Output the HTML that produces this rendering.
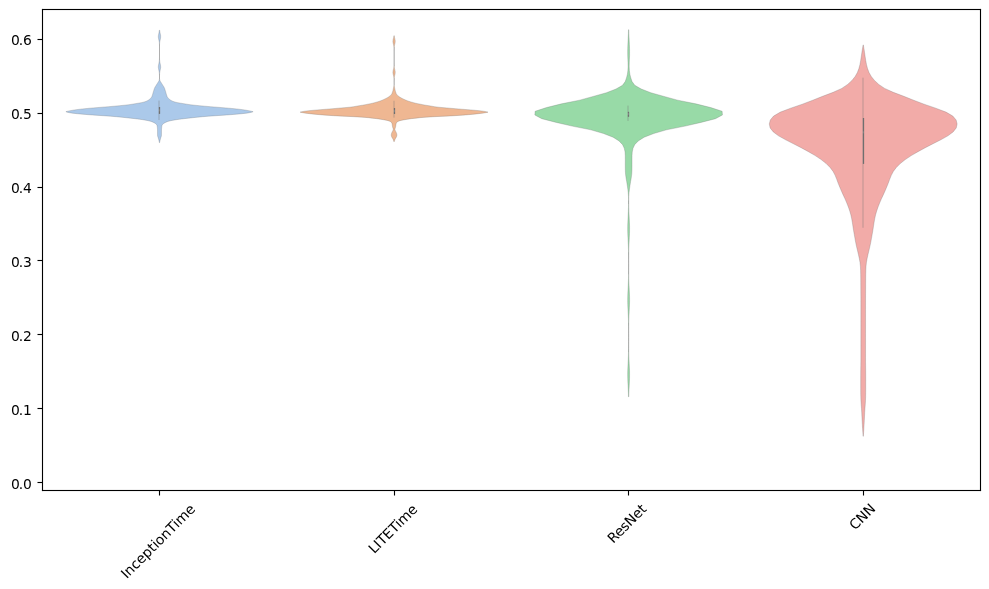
<!DOCTYPE html>
<html lang="en"><head><meta charset="utf-8"><title>Violin plot</title>
<style>
html,body{margin:0;padding:0;background:#fff;}
body{width:989px;height:589px;overflow:hidden;}
svg{display:block;}
text{font-family:"DejaVu Sans","Liberation Sans",sans-serif;font-size:13.889px;fill:#000;}
</style></head><body>
<svg width="989" height="589" viewBox="0 0 989 589">
<rect x="0" y="0" width="989" height="589" fill="#ffffff"/>

<g id="violins">
<path d="M159.34,30.20 L159.29,30.70 L159.22,31.20 L159.14,31.70 L159.05,32.20 L158.95,32.70 L158.85,33.20 L158.74,33.70 L158.63,34.20 L158.54,34.70 L158.46,35.20 L158.39,35.70 L158.36,36.20 L158.35,36.70 L158.37,37.20 L158.41,37.70 L158.49,38.20 L158.57,38.70 L158.67,39.20 L158.78,39.70 L158.89,40.20 L158.99,40.70 L159.09,41.20 L159.18,41.70 L159.25,42.20 L159.31,42.70 L159.36,43.20 L159.40,43.70 L159.43,44.20 L159.45,44.70 L159.47,45.20 L159.48,45.70 L159.49,46.20 L159.49,46.70 L159.49,47.20 L159.50,47.70 L159.50,48.20 L159.50,48.70 L159.50,49.20 L159.50,49.70 L159.50,50.20 L159.50,50.70 L159.50,51.20 L159.50,51.70 L159.50,52.20 L159.50,52.70 L159.50,53.20 L159.50,53.70 L159.50,54.20 L159.50,54.70 L159.50,55.20 L159.50,55.70 L159.50,56.20 L159.49,56.70 L159.49,57.20 L159.48,57.70 L159.47,58.20 L159.46,58.70 L159.44,59.20 L159.41,59.70 L159.37,60.20 L159.32,60.70 L159.26,61.20 L159.19,61.70 L159.11,62.20 L159.01,62.70 L158.91,63.20 L158.80,63.70 L158.69,64.20 L158.59,64.70 L158.50,65.20 L158.43,65.70 L158.38,66.20 L158.36,66.70 L158.35,67.20 L158.39,67.70 L158.44,68.20 L158.52,68.70 L158.61,69.20 L158.71,69.70 L158.82,70.20 L158.93,70.70 L159.03,71.20 L159.13,71.70 L159.21,72.20 L159.28,72.70 L159.33,73.20 L159.38,73.70 L159.41,74.20 L159.44,74.70 L159.46,75.20 L159.47,75.70 L159.48,76.20 L159.49,76.70 L159.49,77.20 L159.50,77.70 L159.50,78.20 L159.47,78.70 L159.39,79.20 L159.28,79.70 L159.15,80.20 L159.00,80.70 L158.76,81.20 L158.45,81.70 L158.12,82.20 L157.79,82.70 L157.49,83.20 L157.17,83.70 L156.85,84.20 L156.53,84.70 L156.22,85.20 L155.92,85.70 L155.60,86.20 L155.29,86.70 L155.00,87.20 L154.74,87.70 L154.52,88.20 L154.33,88.70 L154.16,89.20 L154.00,89.70 L153.84,90.20 L153.69,90.70 L153.53,91.20 L153.39,91.70 L153.24,92.20 L153.09,92.70 L152.94,93.20 L152.79,93.70 L152.66,94.20 L152.52,94.70 L152.37,95.20 L152.20,95.70 L152.01,96.20 L151.79,96.70 L151.50,97.20 L151.14,97.70 L150.71,98.20 L150.23,98.70 L149.69,99.20 L149.06,99.70 L148.31,100.20 L147.42,100.70 L146.39,101.20 L145.07,101.70 L143.39,102.20 L141.20,102.70 L138.18,103.20 L135.12,103.70 L132.22,104.20 L128.95,104.70 L124.70,105.20 L119.57,105.70 L114.23,106.20 L108.50,106.70 L102.25,107.20 L96.00,107.70 L90.13,108.20 L84.78,108.70 L80.19,109.20 L76.19,109.70 L72.97,110.20 L70.14,110.70 L67.73,111.20 L65.90,111.70 L67.16,112.20 L69.51,112.70 L72.51,113.20 L77.20,113.70 L82.67,114.20 L88.78,114.70 L95.50,115.20 L103.21,115.70 L110.54,116.20 L116.33,116.70 L121.51,117.20 L126.30,117.70 L130.80,118.20 L135.20,118.70 L139.36,119.20 L142.83,119.70 L145.74,120.20 L148.28,120.70 L150.30,121.20 L151.80,121.70 L153.02,122.20 L154.03,122.70 L154.93,123.20 L155.67,123.70 L156.18,124.20 L156.60,124.70 L156.92,125.20 L157.10,125.70 L157.18,126.20 L157.25,126.70 L157.31,127.20 L157.36,127.70 L157.41,128.20 L157.44,128.70 L157.47,129.20 L157.49,129.70 L157.50,130.20 L157.51,130.70 L157.51,131.20 L157.52,131.70 L157.52,132.20 L157.52,132.70 L157.52,133.20 L157.53,133.70 L157.53,134.20 L157.54,134.70 L157.55,135.20 L157.57,135.70 L157.68,136.20 L157.84,136.70 L158.02,137.20 L158.19,137.70 L158.33,138.20 L158.47,138.70 L158.61,139.20 L158.75,139.70 L158.88,140.20 L159.00,140.70 L159.10,141.20 L159.21,141.70 L159.30,142.20 L159.39,142.70 L159.40,142.75 L159.60,142.75 L159.61,142.70 L159.70,142.20 L159.79,141.70 L159.90,141.20 L160.00,140.70 L160.12,140.20 L160.25,139.70 L160.39,139.20 L160.53,138.70 L160.67,138.20 L160.81,137.70 L160.98,137.20 L161.16,136.70 L161.32,136.20 L161.43,135.70 L161.45,135.20 L161.46,134.70 L161.47,134.20 L161.47,133.70 L161.48,133.20 L161.48,132.70 L161.48,132.20 L161.48,131.70 L161.49,131.20 L161.49,130.70 L161.50,130.20 L161.51,129.70 L161.53,129.20 L161.56,128.70 L161.59,128.20 L161.64,127.70 L161.69,127.20 L161.75,126.70 L161.82,126.20 L161.90,125.70 L162.08,125.20 L162.40,124.70 L162.82,124.20 L163.33,123.70 L164.07,123.20 L164.97,122.70 L165.98,122.20 L167.20,121.70 L168.70,121.20 L170.72,120.70 L173.26,120.20 L176.17,119.70 L179.64,119.20 L183.80,118.70 L188.20,118.20 L192.70,117.70 L197.49,117.20 L202.67,116.70 L208.46,116.20 L215.79,115.70 L223.50,115.20 L230.22,114.70 L236.33,114.20 L241.80,113.70 L246.49,113.20 L249.49,112.70 L251.84,112.20 L253.10,111.70 L251.27,111.20 L248.86,110.70 L246.03,110.20 L242.81,109.70 L238.81,109.20 L234.22,108.70 L228.87,108.20 L223.00,107.70 L216.75,107.20 L210.50,106.70 L204.77,106.20 L199.43,105.70 L194.30,105.20 L190.05,104.70 L186.78,104.20 L183.88,103.70 L180.82,103.20 L177.80,102.70 L175.61,102.20 L173.93,101.70 L172.61,101.20 L171.58,100.70 L170.69,100.20 L169.94,99.70 L169.31,99.20 L168.77,98.70 L168.29,98.20 L167.86,97.70 L167.50,97.20 L167.21,96.70 L166.99,96.20 L166.80,95.70 L166.63,95.20 L166.48,94.70 L166.34,94.20 L166.21,93.70 L166.06,93.20 L165.91,92.70 L165.76,92.20 L165.61,91.70 L165.47,91.20 L165.31,90.70 L165.16,90.20 L165.00,89.70 L164.84,89.20 L164.67,88.70 L164.48,88.20 L164.26,87.70 L164.00,87.20 L163.71,86.70 L163.40,86.20 L163.08,85.70 L162.78,85.20 L162.47,84.70 L162.15,84.20 L161.83,83.70 L161.51,83.20 L161.21,82.70 L160.88,82.20 L160.55,81.70 L160.24,81.20 L160.00,80.70 L159.85,80.20 L159.72,79.70 L159.61,79.20 L159.53,78.70 L159.50,78.20 L159.50,77.70 L159.51,77.20 L159.51,76.70 L159.52,76.20 L159.53,75.70 L159.54,75.20 L159.56,74.70 L159.59,74.20 L159.62,73.70 L159.67,73.20 L159.72,72.70 L159.79,72.20 L159.87,71.70 L159.97,71.20 L160.07,70.70 L160.18,70.20 L160.29,69.70 L160.39,69.20 L160.48,68.70 L160.56,68.20 L160.61,67.70 L160.65,67.20 L160.64,66.70 L160.62,66.20 L160.57,65.70 L160.50,65.20 L160.41,64.70 L160.31,64.20 L160.20,63.70 L160.09,63.20 L159.99,62.70 L159.89,62.20 L159.81,61.70 L159.74,61.20 L159.68,60.70 L159.63,60.20 L159.59,59.70 L159.56,59.20 L159.54,58.70 L159.53,58.20 L159.52,57.70 L159.51,57.20 L159.51,56.70 L159.50,56.20 L159.50,55.70 L159.50,55.20 L159.50,54.70 L159.50,54.20 L159.50,53.70 L159.50,53.20 L159.50,52.70 L159.50,52.20 L159.50,51.70 L159.50,51.20 L159.50,50.70 L159.50,50.20 L159.50,49.70 L159.50,49.20 L159.50,48.70 L159.50,48.20 L159.50,47.70 L159.51,47.20 L159.51,46.70 L159.51,46.20 L159.52,45.70 L159.53,45.20 L159.55,44.70 L159.57,44.20 L159.60,43.70 L159.64,43.20 L159.69,42.70 L159.75,42.20 L159.82,41.70 L159.91,41.20 L160.01,40.70 L160.11,40.20 L160.22,39.70 L160.33,39.20 L160.43,38.70 L160.51,38.20 L160.59,37.70 L160.63,37.20 L160.65,36.70 L160.64,36.20 L160.61,35.70 L160.54,35.20 L160.46,34.70 L160.37,34.20 L160.26,33.70 L160.15,33.20 L160.05,32.70 L159.95,32.20 L159.86,31.70 L159.78,31.20 L159.71,30.70 L159.66,30.20Z" fill="#abc9ea" stroke="#6f6f6f" stroke-width="0.28" stroke-linejoin="round"/>
<path d="M393.91,35.70 L393.85,36.20 L393.77,36.70 L393.68,37.20 L393.57,37.70 L393.45,38.20 L393.32,38.70 L393.20,39.20 L393.09,39.70 L393.00,40.20 L392.95,40.70 L392.92,41.20 L392.93,41.70 L392.98,42.20 L393.06,42.70 L393.16,43.20 L393.27,43.70 L393.40,44.20 L393.52,44.70 L393.63,45.20 L393.73,45.70 L393.82,46.20 L393.89,46.70 L393.94,47.20 L393.99,47.70 L394.02,48.20 L394.04,48.70 L394.05,49.20 L394.06,49.70 L394.06,50.20 L394.07,50.70 L394.07,51.20 L394.07,51.70 L394.07,52.20 L394.07,52.70 L394.07,53.20 L394.07,53.70 L394.07,54.20 L394.07,54.70 L394.07,55.20 L394.07,55.70 L394.07,56.20 L394.07,56.70 L394.07,57.20 L394.07,57.70 L394.07,58.20 L394.07,58.70 L394.07,59.20 L394.07,59.70 L394.07,60.20 L394.07,60.70 L394.07,61.20 L394.07,61.70 L394.07,62.20 L394.07,62.70 L394.06,63.20 L394.06,63.70 L394.05,64.20 L394.04,64.70 L394.02,65.20 L394.00,65.70 L393.96,66.20 L393.91,66.70 L393.85,67.20 L393.77,67.70 L393.68,68.20 L393.57,68.70 L393.45,69.20 L393.32,69.70 L393.20,70.20 L393.09,70.70 L393.00,71.20 L392.95,71.70 L392.93,72.20 L392.93,72.70 L392.98,73.20 L393.05,73.70 L393.16,74.20 L393.27,74.70 L393.40,75.20 L393.52,75.70 L393.63,76.20 L393.74,76.70 L393.82,77.20 L393.89,77.70 L393.94,78.20 L393.99,78.70 L394.01,79.20 L394.03,79.70 L394.05,80.20 L394.06,80.70 L394.06,81.20 L394.07,81.70 L394.07,82.20 L394.07,82.70 L394.07,83.20 L394.07,83.70 L394.07,84.20 L394.06,84.70 L394.01,85.20 L393.93,85.70 L393.83,86.20 L393.73,86.70 L393.64,87.20 L393.53,87.70 L393.43,88.20 L393.34,88.70 L393.24,89.20 L393.14,89.70 L393.02,90.20 L392.89,90.70 L392.75,91.20 L392.59,91.70 L392.43,92.20 L392.26,92.70 L392.09,93.20 L391.88,93.70 L391.61,94.20 L391.22,94.70 L390.73,95.20 L390.16,95.70 L389.56,96.20 L388.91,96.70 L388.17,97.20 L387.35,97.70 L386.44,98.20 L385.45,98.70 L384.40,99.20 L383.30,99.70 L382.16,100.20 L380.93,100.70 L379.58,101.20 L378.04,101.70 L376.31,102.20 L374.49,102.70 L372.55,103.20 L370.33,103.70 L367.73,104.20 L365.27,104.70 L362.56,105.20 L359.19,105.70 L356.40,106.20 L353.56,106.70 L349.79,107.20 L344.11,107.70 L338.32,108.20 L332.61,108.70 L326.60,109.20 L320.18,109.70 L314.26,110.20 L308.74,110.70 L304.80,111.20 L301.84,111.70 L300.12,112.15 L302.48,112.65 L305.53,113.15 L309.45,113.65 L314.05,114.15 L319.32,114.65 L325.54,115.15 L333.15,115.65 L342.46,116.15 L353.57,116.65 L361.84,117.15 L368.21,117.65 L372.04,118.15 L376.80,118.65 L380.19,119.15 L383.24,119.65 L385.99,120.15 L388.10,120.65 L389.51,121.15 L390.53,121.65 L391.23,122.15 L391.58,122.65 L391.84,123.15 L392.02,123.65 L392.14,124.15 L392.23,124.65 L392.30,125.15 L392.36,125.65 L392.44,126.15 L392.54,126.65 L392.66,127.15 L392.79,127.65 L392.93,128.15 L393.11,128.65 L393.27,129.15 L393.21,129.65 L393.04,130.15 L392.80,130.65 L392.56,131.15 L392.33,131.65 L392.07,132.15 L391.81,132.65 L391.61,133.15 L391.49,133.65 L391.38,134.15 L391.30,134.65 L391.27,135.15 L391.32,135.65 L391.45,136.15 L391.63,136.65 L391.83,137.15 L392.13,137.65 L392.46,138.15 L392.75,138.65 L393.01,139.15 L393.24,139.65 L393.42,140.15 L393.57,140.65 L393.70,141.15 L393.77,141.50 L394.37,141.50 L394.44,141.15 L394.57,140.65 L394.72,140.15 L394.90,139.65 L395.13,139.15 L395.39,138.65 L395.68,138.15 L396.01,137.65 L396.31,137.15 L396.51,136.65 L396.69,136.15 L396.82,135.65 L396.87,135.15 L396.84,134.65 L396.76,134.15 L396.65,133.65 L396.53,133.15 L396.33,132.65 L396.07,132.15 L395.81,131.65 L395.58,131.15 L395.34,130.65 L395.10,130.15 L394.93,129.65 L394.87,129.15 L395.03,128.65 L395.21,128.15 L395.35,127.65 L395.48,127.15 L395.60,126.65 L395.70,126.15 L395.78,125.65 L395.84,125.15 L395.91,124.65 L396.00,124.15 L396.12,123.65 L396.30,123.15 L396.56,122.65 L396.91,122.15 L397.61,121.65 L398.63,121.15 L400.04,120.65 L402.15,120.15 L404.90,119.65 L407.95,119.15 L411.34,118.65 L416.10,118.15 L419.93,117.65 L426.30,117.15 L434.57,116.65 L445.68,116.15 L454.99,115.65 L462.60,115.15 L468.82,114.65 L474.09,114.15 L478.69,113.65 L482.61,113.15 L485.66,112.65 L488.02,112.15 L486.30,111.70 L483.34,111.20 L479.40,110.70 L473.88,110.20 L467.96,109.70 L461.54,109.20 L455.53,108.70 L449.82,108.20 L444.03,107.70 L438.35,107.20 L434.58,106.70 L431.74,106.20 L428.95,105.70 L425.58,105.20 L422.87,104.70 L420.41,104.20 L417.81,103.70 L415.59,103.20 L413.65,102.70 L411.83,102.20 L410.10,101.70 L408.56,101.20 L407.21,100.70 L405.98,100.20 L404.84,99.70 L403.74,99.20 L402.69,98.70 L401.70,98.20 L400.79,97.70 L399.97,97.20 L399.23,96.70 L398.58,96.20 L397.98,95.70 L397.41,95.20 L396.92,94.70 L396.53,94.20 L396.26,93.70 L396.05,93.20 L395.88,92.70 L395.71,92.20 L395.55,91.70 L395.39,91.20 L395.25,90.70 L395.12,90.20 L395.00,89.70 L394.90,89.20 L394.80,88.70 L394.71,88.20 L394.61,87.70 L394.50,87.20 L394.41,86.70 L394.31,86.20 L394.21,85.70 L394.13,85.20 L394.08,84.70 L394.07,84.20 L394.07,83.70 L394.07,83.20 L394.07,82.70 L394.07,82.20 L394.07,81.70 L394.08,81.20 L394.08,80.70 L394.09,80.20 L394.11,79.70 L394.13,79.20 L394.15,78.70 L394.20,78.20 L394.25,77.70 L394.32,77.20 L394.40,76.70 L394.51,76.20 L394.62,75.70 L394.74,75.20 L394.87,74.70 L394.98,74.20 L395.09,73.70 L395.16,73.20 L395.21,72.70 L395.21,72.20 L395.19,71.70 L395.14,71.20 L395.05,70.70 L394.94,70.20 L394.82,69.70 L394.69,69.20 L394.57,68.70 L394.46,68.20 L394.37,67.70 L394.29,67.20 L394.23,66.70 L394.18,66.20 L394.14,65.70 L394.12,65.20 L394.10,64.70 L394.09,64.20 L394.08,63.70 L394.08,63.20 L394.07,62.70 L394.07,62.20 L394.07,61.70 L394.07,61.20 L394.07,60.70 L394.07,60.20 L394.07,59.70 L394.07,59.20 L394.07,58.70 L394.07,58.20 L394.07,57.70 L394.07,57.20 L394.07,56.70 L394.07,56.20 L394.07,55.70 L394.07,55.20 L394.07,54.70 L394.07,54.20 L394.07,53.70 L394.07,53.20 L394.07,52.70 L394.07,52.20 L394.07,51.70 L394.07,51.20 L394.07,50.70 L394.08,50.20 L394.08,49.70 L394.09,49.20 L394.10,48.70 L394.12,48.20 L394.15,47.70 L394.20,47.20 L394.25,46.70 L394.32,46.20 L394.41,45.70 L394.51,45.20 L394.62,44.70 L394.74,44.20 L394.87,43.70 L394.98,43.20 L395.08,42.70 L395.16,42.20 L395.21,41.70 L395.22,41.20 L395.19,40.70 L395.14,40.20 L395.05,39.70 L394.94,39.20 L394.82,38.70 L394.69,38.20 L394.57,37.70 L394.46,37.20 L394.37,36.70 L394.29,36.20 L394.23,35.70Z" fill="#efb792" stroke="#6f6f6f" stroke-width="0.28" stroke-linejoin="round"/>
<path d="M628.51,29.70 L628.40,33.41 L628.24,37.12 L628.05,40.82 L627.87,44.53 L627.74,48.24 L627.69,51.95 L627.73,55.66 L627.87,59.36 L628.02,63.07 L628.08,66.78 L627.89,70.49 L627.43,74.20 L626.47,77.91 L625.21,81.61 L622.47,85.32 L615.99,89.03 L606.38,92.74 L593.14,96.45 L579.67,100.15 L561.42,103.86 L546.50,107.57 L535.14,111.28 L534.84,114.99 L541.77,118.69 L556.23,122.40 L572.12,126.11 L590.78,129.82 L603.53,133.53 L613.10,137.23 L619.04,140.94 L622.60,144.65 L624.28,148.36 L625.06,152.07 L625.26,155.77 L625.28,159.48 L625.28,163.19 L625.29,166.90 L625.34,170.61 L625.57,174.32 L626.05,178.02 L626.71,181.73 L627.29,185.44 L627.82,189.15 L628.26,192.86 L628.48,196.56 L628.55,200.27 L628.54,203.98 L628.47,207.69 L628.35,211.40 L628.19,215.10 L628.00,218.81 L627.83,222.52 L627.71,226.23 L627.70,229.94 L627.78,233.64 L627.94,237.35 L628.13,241.06 L628.31,244.77 L628.45,248.48 L628.54,252.18 L628.59,255.89 L628.62,259.60 L628.63,263.31 L628.63,267.02 L628.61,270.73 L628.57,274.43 L628.50,278.14 L628.39,281.85 L628.23,285.56 L628.04,289.27 L627.86,292.97 L627.73,296.68 L627.69,300.39 L627.75,304.10 L627.90,307.81 L628.09,311.51 L628.27,315.22 L628.42,318.93 L628.52,322.64 L628.58,326.35 L628.62,330.05 L628.63,333.76 L628.63,337.47 L628.63,341.18 L628.61,344.89 L628.58,348.59 L628.51,352.30 L628.41,356.01 L628.25,359.72 L628.07,363.43 L627.88,367.14 L627.74,370.84 L627.69,374.55 L627.74,378.26 L627.88,381.97 L628.06,385.68 L628.25,389.38 L628.40,393.09 L628.48,396.80 L628.80,396.80 L628.88,393.09 L629.03,389.38 L629.22,385.68 L629.40,381.97 L629.54,378.26 L629.59,374.55 L629.54,370.84 L629.40,367.14 L629.21,363.43 L629.03,359.72 L628.87,356.01 L628.77,352.30 L628.70,348.59 L628.67,344.89 L628.65,341.18 L628.65,337.47 L628.65,333.76 L628.66,330.05 L628.70,326.35 L628.76,322.64 L628.86,318.93 L629.01,315.22 L629.19,311.51 L629.38,307.81 L629.53,304.10 L629.59,300.39 L629.55,296.68 L629.42,292.97 L629.24,289.27 L629.05,285.56 L628.89,281.85 L628.78,278.14 L628.71,274.43 L628.67,270.73 L628.65,267.02 L628.65,263.31 L628.66,259.60 L628.69,255.89 L628.74,252.18 L628.83,248.48 L628.97,244.77 L629.15,241.06 L629.34,237.35 L629.50,233.64 L629.58,229.94 L629.57,226.23 L629.45,222.52 L629.28,218.81 L629.09,215.10 L628.93,211.40 L628.81,207.69 L628.74,203.98 L628.73,200.27 L628.80,196.56 L629.02,192.86 L629.46,189.15 L629.99,185.44 L630.57,181.73 L631.23,178.02 L631.71,174.32 L631.94,170.61 L631.99,166.90 L632.00,163.19 L632.00,159.48 L632.02,155.77 L632.22,152.07 L633.00,148.36 L634.68,144.65 L638.24,140.94 L644.18,137.23 L653.75,133.53 L666.50,129.82 L685.16,126.11 L701.05,122.40 L715.51,118.69 L722.44,114.99 L722.14,111.28 L710.78,107.57 L695.86,103.86 L677.61,100.15 L664.14,96.45 L650.90,92.74 L641.29,89.03 L634.81,85.32 L632.07,81.61 L630.81,77.91 L629.85,74.20 L629.39,70.49 L629.20,66.78 L629.26,63.07 L629.41,59.36 L629.55,55.66 L629.59,51.95 L629.54,48.24 L629.41,44.53 L629.23,40.82 L629.04,37.12 L628.88,33.41 L628.77,29.70Z" fill="#98daa7" stroke="#6f6f6f" stroke-width="0.28" stroke-linejoin="round"/>
<path d="M863.11,44.90 L862.43,48.85 L861.82,52.81 L861.25,56.76 L860.64,60.71 L859.90,64.67 L858.88,68.62 L857.37,72.57 L855.13,76.53 L851.93,80.48 L847.62,84.44 L841.76,88.39 L833.11,92.34 L822.57,96.30 L812.69,100.25 L802.31,104.20 L790.70,108.16 L780.39,112.11 L773.62,116.06 L770.28,120.02 L769.31,123.97 L770.14,127.92 L773.28,131.88 L778.51,135.83 L785.60,139.78 L793.42,143.74 L801.11,147.69 L808.40,151.65 L815.17,155.60 L821.12,159.55 L826.13,163.51 L830.08,167.46 L833.10,171.41 L835.13,175.37 L836.73,179.32 L838.20,183.27 L839.80,187.23 L841.50,191.18 L843.27,195.13 L845.11,199.09 L846.81,203.04 L848.36,206.99 L849.73,210.95 L850.87,214.90 L851.71,218.86 L852.39,222.81 L852.99,226.76 L853.61,230.72 L854.31,234.67 L854.98,238.62 L855.70,242.58 L856.53,246.53 L857.48,250.48 L858.42,254.44 L859.28,258.39 L859.97,262.34 L860.42,266.30 L860.60,270.25 L860.69,274.21 L860.74,278.16 L860.77,282.11 L860.79,286.07 L860.81,290.02 L860.83,293.97 L860.86,297.93 L860.86,301.88 L860.86,305.83 L860.86,309.79 L860.86,313.74 L860.86,317.69 L860.86,321.65 L860.86,325.60 L860.86,329.55 L860.86,333.51 L860.86,337.46 L860.86,341.42 L860.86,345.37 L860.86,349.32 L860.86,353.28 L860.86,357.23 L860.86,361.18 L860.82,365.14 L860.76,369.09 L860.72,373.04 L860.71,377.00 L860.71,380.95 L860.71,384.90 L860.71,388.86 L860.73,392.81 L860.81,396.76 L860.93,400.72 L861.18,404.67 L861.49,408.63 L861.73,412.58 L861.91,416.53 L862.11,420.49 L862.33,424.44 L862.56,428.39 L862.82,432.35 L863.11,436.30 L863.31,436.30 L863.60,432.35 L863.86,428.39 L864.09,424.44 L864.31,420.49 L864.51,416.53 L864.69,412.58 L864.93,408.63 L865.24,404.67 L865.49,400.72 L865.61,396.76 L865.69,392.81 L865.71,388.86 L865.71,384.90 L865.71,380.95 L865.71,377.00 L865.70,373.04 L865.66,369.09 L865.60,365.14 L865.56,361.18 L865.56,357.23 L865.56,353.28 L865.56,349.32 L865.56,345.37 L865.56,341.42 L865.56,337.46 L865.56,333.51 L865.56,329.55 L865.56,325.60 L865.56,321.65 L865.56,317.69 L865.56,313.74 L865.56,309.79 L865.56,305.83 L865.56,301.88 L865.56,297.93 L865.59,293.97 L865.61,290.02 L865.63,286.07 L865.65,282.11 L865.68,278.16 L865.73,274.21 L865.82,270.25 L866.00,266.30 L866.45,262.34 L867.14,258.39 L868.00,254.44 L868.94,250.48 L869.89,246.53 L870.72,242.58 L871.44,238.62 L872.11,234.67 L872.81,230.72 L873.43,226.76 L874.03,222.81 L874.71,218.86 L875.55,214.90 L876.69,210.95 L878.06,206.99 L879.61,203.04 L881.31,199.09 L883.15,195.13 L884.92,191.18 L886.62,187.23 L888.22,183.27 L889.69,179.32 L891.29,175.37 L893.32,171.41 L896.34,167.46 L900.29,163.51 L905.30,159.55 L911.25,155.60 L918.02,151.65 L925.31,147.69 L933.00,143.74 L940.82,139.78 L947.91,135.83 L953.14,131.88 L956.28,127.92 L957.11,123.97 L956.14,120.02 L952.80,116.06 L946.03,112.11 L935.72,108.16 L924.11,104.20 L913.73,100.25 L903.85,96.30 L893.31,92.34 L884.66,88.39 L878.80,84.44 L874.49,80.48 L871.29,76.53 L869.05,72.57 L867.54,68.62 L866.52,64.67 L865.78,60.71 L865.17,56.76 L864.60,52.81 L863.99,48.85 L863.31,44.90Z" fill="#f2aba8" stroke="#6f6f6f" stroke-width="0.28" stroke-linejoin="round"/>
</g>
<g id="tails" fill="#6f6f6f" fill-opacity="0.2">
<rect x="159" y="43.7" width="1" height="16.5"/>
<rect x="159" y="73.7" width="1" height="5.5"/>
<rect x="394" y="47.2" width="1" height="19.0"/>
<rect x="394" y="78.2" width="1" height="7.0"/>
<rect x="628" y="200.3" width="1" height="3.7"/>
<rect x="628" y="252.2" width="1" height="22.2"/>
<rect x="628" y="322.6" width="1" height="29.7"/>
</g>
<g id="boxes">
<line x1="159.0" x2="159.0" y1="100.6" y2="120.0" stroke="#6f6f6f" stroke-width="0.417"/>
<line x1="159.5" x2="159.5" y1="107.0" y2="113.9" stroke="#6f6f6f" stroke-width="1.25"/>
<rect x="158.50" y="109.26" width="1.6" height="2.08" fill="#ffffff" fill-opacity="0.13"/>
<line x1="394.0" x2="394.0" y1="100.8" y2="117.6" stroke="#6f6f6f" stroke-width="0.417"/>
<line x1="394.5" x2="394.5" y1="108.0" y2="114.0" stroke="#6f6f6f" stroke-width="1.25"/>
<rect x="393.50" y="109.96" width="1.6" height="2.08" fill="#ffffff" fill-opacity="0.13"/>
<line x1="628.0" x2="628.0" y1="105.6" y2="120.9" stroke="#6f6f6f" stroke-width="0.417"/>
<line x1="628.5" x2="628.5" y1="111.8" y2="116.8" stroke="#6f6f6f" stroke-width="1.25"/>
<rect x="627.50" y="112.96" width="1.6" height="2.08" fill="#ffffff" fill-opacity="0.13"/>
<line x1="863.0" x2="863.0" y1="77.7" y2="227.7" stroke="#6f6f6f" stroke-width="0.417"/>
<line x1="863.5" x2="863.5" y1="118.0" y2="163.9" stroke="#6f6f6f" stroke-width="1.25"/>
<rect x="862.50" y="131.26" width="1.6" height="2.08" fill="#ffffff" fill-opacity="0.13"/>
</g>
<g id="axes" fill="#000">
<rect x="41.944" y="8.944" width="939.111" height="1.111"/>
<rect x="41.944" y="489.945" width="939.111" height="1.111"/>
<rect x="41.944" y="8.944" width="1.111" height="482.111"/>
<rect x="979.944" y="8.944" width="1.111" height="482.111"/>
<rect x="37.5" y="38.944" width="4.6" height="1.111"/>
<rect x="37.5" y="112.945" width="4.6" height="1.111"/>
<rect x="37.5" y="186.945" width="4.6" height="1.111"/>
<rect x="37.5" y="259.945" width="4.6" height="1.111"/>
<rect x="37.5" y="333.945" width="4.6" height="1.111"/>
<rect x="37.5" y="407.945" width="4.6" height="1.111"/>
<rect x="37.5" y="481.945" width="4.6" height="1.111"/>
<rect x="158.945" y="490.9" width="1.111" height="4.6"/>
<rect x="393.945" y="490.9" width="1.111" height="4.6"/>
<rect x="627.944" y="490.9" width="1.111" height="4.6"/>
<rect x="862.944" y="490.9" width="1.111" height="4.6"/>
</g>
<g id="ylabels">
<text x="10.875 18.625 22.975" y="44.75">0.6</text>
<text x="10.875 18.625 22.975" y="118.75">0.5</text>
<text x="10.875 18.625 22.975" y="192.75">0.4</text>
<text x="10.875 18.625 22.975" y="266.75">0.3</text>
<text x="10.875 18.625 22.975" y="340.75">0.2</text>
<text x="10.875 18.625 22.975" y="414.75">0.1</text>
<text x="10.875 18.625 22.975" y="488.75">0.0</text>
</g>
<g id="xlabels">
<text transform="translate(196.00,510.00) rotate(-45.00)" text-anchor="end" style="letter-spacing:-0.025px" x="0" y="0">InceptionTime</text>
<text transform="translate(418.27,510.20) rotate(-45.00)" text-anchor="end" style="letter-spacing:-0.075px" x="0" y="0">LITETime</text>
<text transform="translate(647.25,510.00) rotate(-45.00)" text-anchor="end" style="letter-spacing:-0.150px" x="0" y="0">ResNet</text>
<text transform="translate(876.25,509.50) rotate(-44.88)" text-anchor="end" style="letter-spacing:-0.100px" x="0" y="0">CNN</text>
</g>
</svg>
</body></html>
